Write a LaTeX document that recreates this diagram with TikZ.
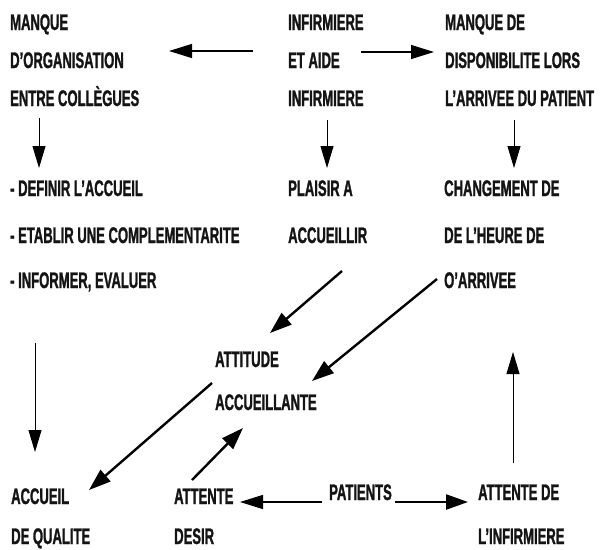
\documentclass[tikz,border=0pt]{standalone}
\usepackage{fontspec}
\newfontfamily\cond[FakeStretch=0.58,FakeBold=1.2]{Liberation Sans}
\usetikzlibrary{arrows.meta,calc}
\tikzset{
  lbl/.style={anchor=west,inner sep=0pt,text height=16pt,text depth=0pt,
    font=\cond\bfseries\fontsize{22.5}{22.5}\selectfont,text=black!92},
  arr/.style={-{Triangle[length=23pt,width=14pt]},line width=1.2pt},
  thinarr/.style={-{Triangle[length=22pt,width=13pt]},line width=0.9pt},
  bigarr/.style={-{Triangle[length=22pt,width=15pt]},line width=2.4pt}
}
\begin{document}
\begin{tikzpicture}[x=1pt,y=-1pt]
\useasboundingbox (0,0) rectangle (602,549);
% top left
\node[lbl] (mq)  at (10,22) {MANQUE};
\node[lbl] (org) at (10,60) {D’ORGANISATION};
\node[lbl] (ent) at (10,98) {ENTRE COLLÈGUES};
% top middle
\node[lbl] (inf1) at (288,22) {INFIRMIERE};
\node[lbl] (et)   at (288,60) {ET AIDE};
\node[lbl] (inf2) at (288,98) {INFIRMIERE};
% top right
\node[lbl] (mqd) at (445,22) {MANQUE DE};
\node[lbl] (dis) at (445,60) {DISPONIBILITE LORS};
\node[lbl] (arv) at (445,98) {L’ARRIVEE DU PATIENT};
% middle left
\node[lbl] (def) at (10,188) {- DEFINIR L’ACCUEIL};
\node[lbl] (eta) at (10,235) {- ETABLIR UNE COMPLEMENTARITE};
\node[lbl] (ifo) at (10,280) {- INFORMER, EVALUER};
% middle
\node[lbl] (pla) at (288,188) {PLAISIR A};
\node[lbl] (acc) at (288,235) {ACCUEILLIR};
% middle right
\node[lbl] (chg) at (444,188) {CHANGEMENT DE};
\node[lbl] (heu) at (444,235) {DE L’HEURE DE};
\node[lbl] (oar) at (444,280) {O’ARRIVEE};
% centre
\node[lbl] (att)  at (215,359) {ATTITUDE};
\node[lbl] (accl) at (215,402) {ACCUEILLANTE};
% bottom
\node[lbl] (accu) at (11,496) {ACCUEIL};
\node[lbl] (qual) at (11,536) {DE QUALITE};
\node[lbl] (atte) at (174,496) {ATTENTE};
\node[lbl] (des)  at (174,536) {DESIR};
\node[lbl] (pat)  at (329,492) {PATIENTS};
\node[lbl] (attd) at (478,492) {ATTENTE DE};
\node[lbl] (linf) at (478,536) {L’INFIRMIERE};
% connectors
\draw[arr] ($(et.west)+(-35,-9)$) -- ($(org.west)+(159,-9)$);
\draw[arr] ($(et.west)+(73,-8)$) -- ($(dis.west)+(-11,-8)$);
\draw[thinarr] ($(ent.west)+(29,20)$) -- ($(def.west)+(29,-20)$);
\draw[thinarr] ($(inf2.west)+(39,22)$) -- ($(pla.west)+(39,-20)$);
\draw[thinarr] ($(arv.west)+(69,22)$) -- ($(chg.west)+(70,-20)$);
\draw[bigarr] ($(acc.west)+(54,36)$) -- ($(att.west)+(55,-26)$);
\draw[bigarr] ($(oar.west)+(-7,-1)$) -- ($(accl.west)+(97,-21)$);
\draw[bigarr] ($(accl.west)+(-3,-19)$) -- ($(accu.west)+(78,-6)$);
\draw[bigarr] ($(atte.west)+(18,-16)$) -- ($(accl.west)+(28,26)$);
\draw[thinarr] ($(ifo.west)+(25,63)$) -- ($(accu.west)+(24,-44)$);
\draw[arr] ($(pat.west)+(-7,10)$) -- ($(atte.west)+(66,6)$);
\draw[bigarr] ($(pat.west)+(66,10)$) -- ($(attd.west)+(-10,10)$);
\draw[thinarr] ($(attd.west)+(35,-29)$) -- ($(oar.west)+(69,72)$);
\end{tikzpicture}
\end{document}
